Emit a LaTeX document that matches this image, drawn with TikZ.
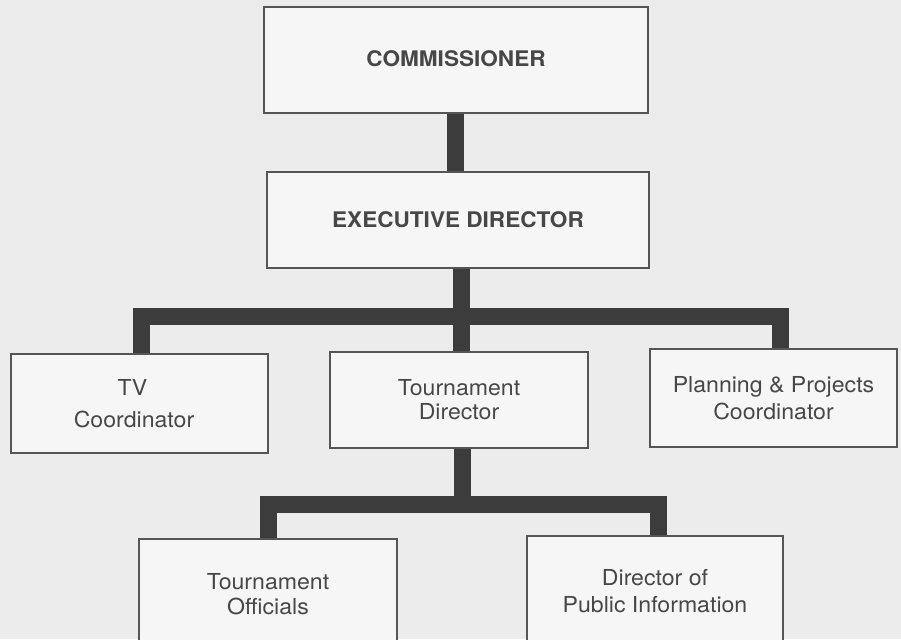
\documentclass[tikz,border=0pt]{standalone}
\usepackage{fontspec}
\setmainfont{TeX Gyre Heros}[FakeStretch=1.05]
\definecolor{bgc}{HTML}{ECECEC}
\definecolor{boxfill}{HTML}{F6F6F6}
\definecolor{boxline}{HTML}{555555}
\definecolor{connc}{HTML}{3C3C3C}
\definecolor{ink}{HTML}{474747}
\begin{document}
\begin{tikzpicture}[x=1pt,y=-1pt,
  box/.style={draw=boxline, line width=1.8pt, fill=boxfill, text=ink, inner sep=0pt,
    align=center, font=\fontsize{22}{26}\selectfont},
  lsp/.style={font=\fontsize{22}{#1}\selectfont},
  headbox/.style={box, font=\fontsize{21.5}{25}\selectfont\bfseries},
  conn/.style={draw=connc, line width=17pt, line join=miter}]
\useasboundingbox (0,0) rectangle (901,639);
\clip (0,0) rectangle (901,639);
\fill[bgc] (0,0) rectangle (901,639);
% boxes
\node[headbox, minimum width=384pt, minimum height=106pt] (comm) at (456,60) {\raisebox{3pt}{COMMISSIONER}};
\node[headbox, minimum width=382pt, minimum height=96pt] (exec) at (458,220) {EXECUTIVE DIRECTOR};
\node[box, lsp=32, minimum width=257pt, minimum height=99pt] (tv) at (139.5,403.5) {\raisebox{-2pt}{TV}\hspace*{14pt}\\\raisebox{-2pt}{Coordinator}\hspace*{11pt}};
\node[box, lsp=24, minimum width=258pt, minimum height=96pt] (td) at (459,400) {Tournament\\Director};
\node[box, lsp=27, minimum width=247pt, minimum height=98pt] (pp) at (773.5,398) {Planning \& Projects\\Coordinator};
\node[box, lsp=25, minimum width=258pt, minimum height=110pt] (to) at (268,594) {Tournament\\Officials};
\node[box, lsp=27, minimum width=256pt, minimum height=110pt] (dpi) at (655,591) {Director of\\Public Information};
% connector coordinates
\coordinate (v0) at (455,0);
\coordinate (v1) at (461,0);
\coordinate (v2) at (462,0);
\coordinate (b1l) at (141,316);
\coordinate (b1r) at (780,316);
\coordinate (b2l) at (268,504);
\coordinate (b2r) at (658,504);
% connectors
\draw[conn] (comm.south -| v0) -- (exec.north -| v0);
\draw[conn] (exec.south -| v1) -- (td.north -| v1);
\draw[conn] (tv.north -| b1l) -- (b1l) -- (b1r) -- (pp.north -| b1r);
\draw[conn] (td.south -| v2) -- (v2 |- b2l);
\draw[conn] (to.north -| b2l) -- (b2l) -- (b2r) -- (dpi.north -| b2r);
\end{tikzpicture}
\end{document}
